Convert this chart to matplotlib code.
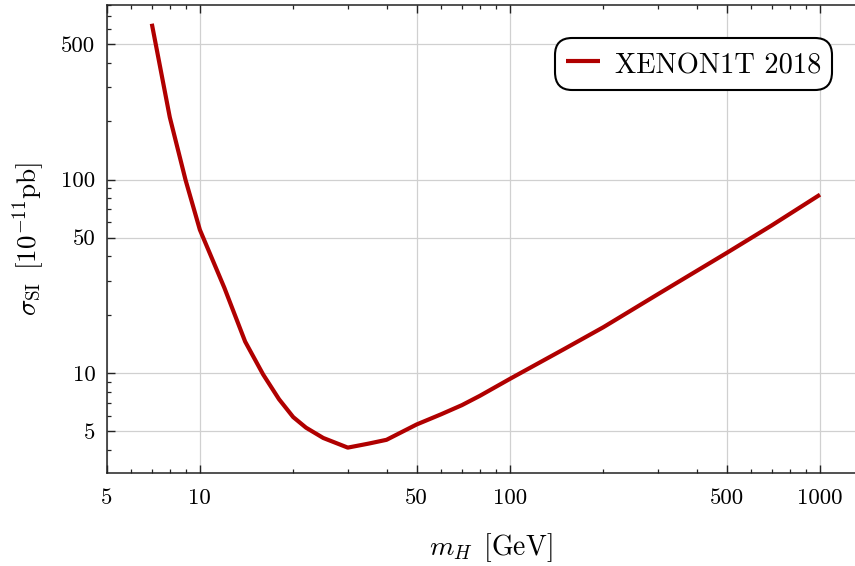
import matplotlib
matplotlib.use("Agg")
import matplotlib.pyplot as plt
from matplotlib.ticker import FixedLocator, FuncFormatter, NullFormatter

# Data
mass_gev = [7, 8, 9, 10, 12, 14, 16, 18, 20, 22, 25, 30, 35, 40, 50, 60, 70, 80, 100, 150, 200, 300, 500, 700, 1000]
sigma_si = [640, 210, 99, 55, 27.5, 14.5, 9.8, 7.3, 5.9, 5.2, 4.6, 4.1, 4.3, 4.5, 5.4, 6.1, 6.8, 7.6, 9.3, 13.3, 17.2, 25.5, 41.7, 58, 83.5]
series_label = "XENON1T 2018"
x_major = [5, 10, 50, 100, 500, 1000]
y_major = [5, 10, 50, 100, 500]

plt.rcParams["font.family"] = "cmr10"
plt.rcParams["mathtext.fontset"] = "cm"
plt.rcParams["axes.formatter.use_mathtext"] = True

W, H = 855, 566
fig = plt.figure(figsize=(W / 100, H / 100), dpi=100)
left_px, right_px, top_px, bot_px = 106.5, 874.6, 5, 473
ax = fig.add_axes([left_px / W, 1 - bot_px / H, (right_px - left_px) / W, (bot_px - top_px) / H])

ax.plot(mass_gev, sigma_si, color="#b00000", lw=3.0, label=series_label,
        solid_joinstyle="round", solid_capstyle="butt")

ax.set_xscale("log")
ax.set_yscale("log")
ax.set_xlim(5, 1500)
ax.set_ylim(3.03, 800)

ax.xaxis.set_major_locator(FixedLocator(x_major))
ax.yaxis.set_major_locator(FixedLocator(y_major))
fmt = FuncFormatter(lambda v, p: "%d" % round(v))
ax.xaxis.set_major_formatter(fmt)
ax.yaxis.set_major_formatter(fmt)
ax.xaxis.set_minor_formatter(NullFormatter())
ax.yaxis.set_minor_formatter(NullFormatter())

ax.grid(True, which="major", color="#d0d0d0", lw=0.9)
ax.set_axisbelow(True)
ax.tick_params(which="both", direction="in", top=True, right=True, labelsize=16.5, colors="#222222", labelcolor="black")
ax.tick_params(axis="x", which="major", pad=11)
ax.tick_params(axis="y", which="major", pad=8)
ax.tick_params(which="major", length=5.5, width=1.0)
ax.tick_params(which="minor", length=3, width=0.9)
for s in ax.spines.values():
    s.set_linewidth(1.1)
    s.set_color("#222222")

ax.set_xlabel(r"$m_H\ \,[\mathrm{GeV}]$", fontsize=20, labelpad=17)
ax.set_ylabel(r"$\sigma_{\mathrm{SI}}\ \,[10^{-11}\mathrm{pb}]$", fontsize=19.5, labelpad=10)

leg = ax.legend(loc="upper right",
                bbox_to_anchor=((832 - left_px) / (right_px - left_px), 1 - (38 - top_px) / (bot_px - top_px)),
                borderaxespad=0, fontsize=20.5, frameon=True, fancybox=True, handlelength=1.2,
                handleheight=1.3, handletextpad=0.55, borderpad=0.36, framealpha=1)
leg.get_frame().set_edgecolor("black")
leg.get_frame().set_linewidth(1.5)
leg.get_frame().set_boxstyle("round", pad=0, rounding_size=0.6)
leg.get_lines()[0].set_linewidth(3.0)

fig.savefig("out.png", dpi=100)
